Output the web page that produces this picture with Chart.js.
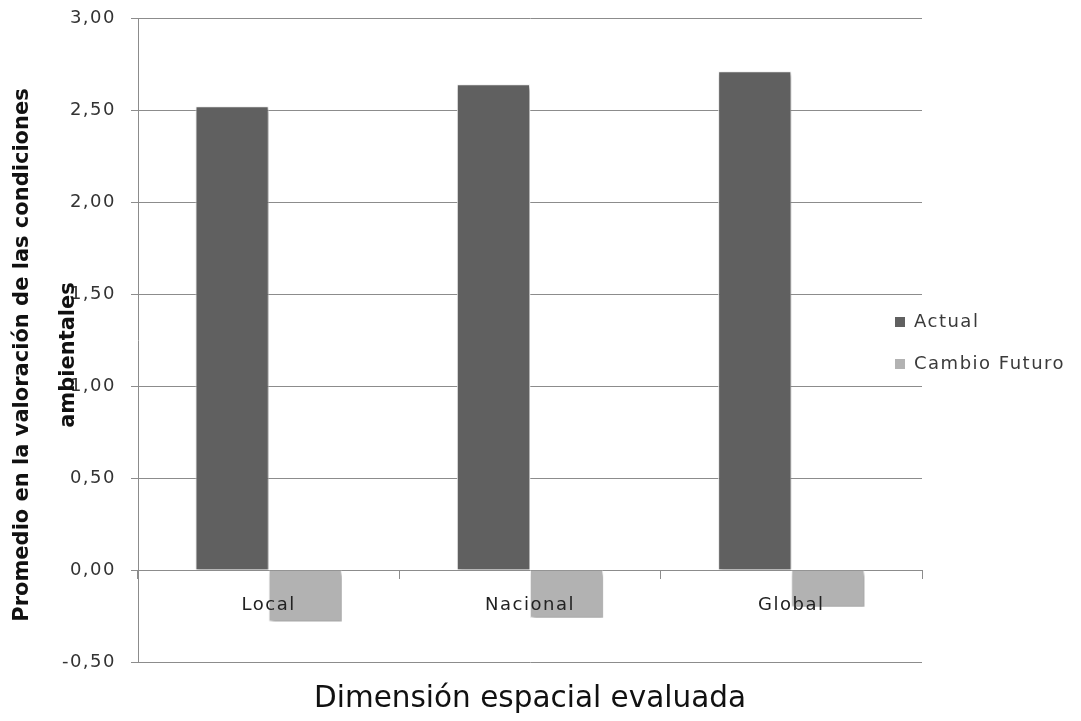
<!DOCTYPE html>
<html lang="es">
<head>
<meta charset="utf-8">
<title>Dimensión espacial evaluada</title>
<script src="https://cdn.jsdelivr.net/npm/chart.js@4.4.1/dist/chart.umd.min.js"></script>
<style>
  html, body { margin: 0; padding: 0; background: #ffffff; }
  canvas { display: block; }
</style>
</head>
<body>
<canvas id="grafico" width="1081" height="721"></canvas>
<script>
// Categorías (dimensión espacial) y promedios por serie
const categorias = ['Local', 'Nacional', 'Global'];
const serieActual = [2.52, 2.64, 2.71];
const serieCambioFuturo = [-0.28, -0.26, -0.20];
const nombresSeries = ['Actual', 'Cambio Futuro'];

// Eje de valores
const ejeMin = -0.5;
const ejeMax = 3.0;
const ejePaso = 0.5;

// Textos de los ejes
const tituloEjeX = 'Dimensión espacial evaluada';
const tituloEjeY = ['Promedio en la valoración de las condiciones', 'ambientales'];

const colorActual = '#606060';
const colorCambio = '#b2b2b2';
const colorRejilla = '#8c8c8c';

// Espaciado de letras para los textos que dibuja la librería
const espaciadoTexto = {
  id: 'espaciadoTexto',
  beforeUpdate(chart) { chart.ctx.letterSpacing = '1.5px'; },
  beforeLayout(chart) { chart.ctx.letterSpacing = '1.5px'; },
  beforeDraw(chart) { chart.ctx.letterSpacing = '1.5px'; }
};

// Sombra suave bajo las barras
const sombraBarras = {
  id: 'sombraBarras',
  beforeDatasetsDraw(chart) {
    const ctx = chart.ctx;
    ctx.save();
    ctx.shadowColor = 'rgba(0,0,0,0.35)';
    ctx.shadowBlur = 4;
    ctx.shadowOffsetX = 2;
    ctx.shadowOffsetY = 3;
  },
  afterDatasetsDraw(chart) {
    chart.ctx.restore();
  }
};

// La leyenda se adentra un poco en el área de trazado
const posicionLeyenda = {
  id: 'posicionLeyenda',
  afterLayout(chart) {
    const lg = chart.legend;
    if (!lg) return;
    lg.left -= 51;
    lg.top += 3;
    lg.bottom += 3;
  }
};

// Títulos de los ejes
const titulosEjes = {
  id: 'titulosEjes',
  afterDraw(chart) {
    const ctx = chart.ctx;
    const area = chart.chartArea;
    ctx.save();
    ctx.letterSpacing = '0px';
    ctx.fillStyle = '#111111';
    ctx.textAlign = 'center';
    ctx.textBaseline = 'middle';
    ctx.font = '29.5px "DejaVu Sans"';
    ctx.fillText(tituloEjeX, (area.left + area.right) / 2, 699);

    ctx.font = 'bold 21px "DejaVu Sans"';
    const cy = 355;
    const xs = [23, 69];
    tituloEjeY.forEach((linea, i) => {
      ctx.save();
      ctx.translate(xs[i], cy);
      ctx.rotate(-Math.PI / 2);
      ctx.fillText(linea, 0, 0);
      ctx.restore();
    });
    ctx.restore();
  }
};

const formatoComa = v => v.toFixed(2).replace('.', ',');

new Chart(document.getElementById('grafico'), {
  type: 'bar',
  data: {
    labels: categorias,
    datasets: [
      {
        label: nombresSeries[0],
        data: serieActual,
        backgroundColor: colorActual,
        borderColor: '#f4f4f4',
        borderWidth: 1
      },
      {
        label: nombresSeries[1],
        data: serieCambioFuturo,
        backgroundColor: colorCambio,
        borderColor: '#f4f4f4',
        borderWidth: 1
      }
    ]
  },
  options: {
    responsive: false,
    animation: false,
    devicePixelRatio: 1,
    layout: { padding: { left: 0, right: 0, top: 18, bottom: 59 } },
    datasets: {
      bar: { categoryPercentage: 0.56, barPercentage: 1.0 }
    },
    plugins: {
      tooltip: { enabled: false },
      title: { display: false },
      legend: {
        position: 'right',
        maxWidth: 159,
        labels: {
          boxWidth: 10,
          boxHeight: 10,
          padding: 24,
          color: '#3a3a3a',
          font: { family: '"DejaVu Sans"', size: 18 },
          generateLabels(chart) {
            const base = Chart.defaults.plugins.legend.labels.generateLabels(chart);
            return base.map(it => Object.assign(it, { lineWidth: 0, strokeStyle: 'rgba(0,0,0,0)' }));
          }
        }
      }
    },
    scales: {
      x: {
        position: { y: 0 },
        grid: {
          display: true,
          drawOnChartArea: false,
          drawTicks: true,
          tickLength: 8,
          color: colorRejilla,
          offset: true
        },
        border: { display: true, color: colorRejilla, width: 1 },
        ticks: {
          z: 1,
          color: '#222222',
          padding: 17,
          font: { family: '"DejaVu Sans"', size: 18 }
        }
      },
      y: {
        min: ejeMin,
        max: ejeMax,
        afterFit(scale) {
          scale.width = 138;
          scale.paddingTop = 8;
          scale.paddingBottom = 8;
        },
        grid: {
          color: colorRejilla,
          lineWidth: 1,
          drawTicks: true,
          tickLength: 7
        },
        border: { display: true, color: colorRejilla, width: 1 },
        ticks: {
          stepSize: ejePaso,
          color: '#333333',
          padding: 15,
          font: { family: '"DejaVu Sans"', size: 18 },
          callback: v => formatoComa(v)
        }
      }
    }
  },
  plugins: [espaciadoTexto, sombraBarras, posicionLeyenda, titulosEjes]
});
</script>
</body>
</html>
